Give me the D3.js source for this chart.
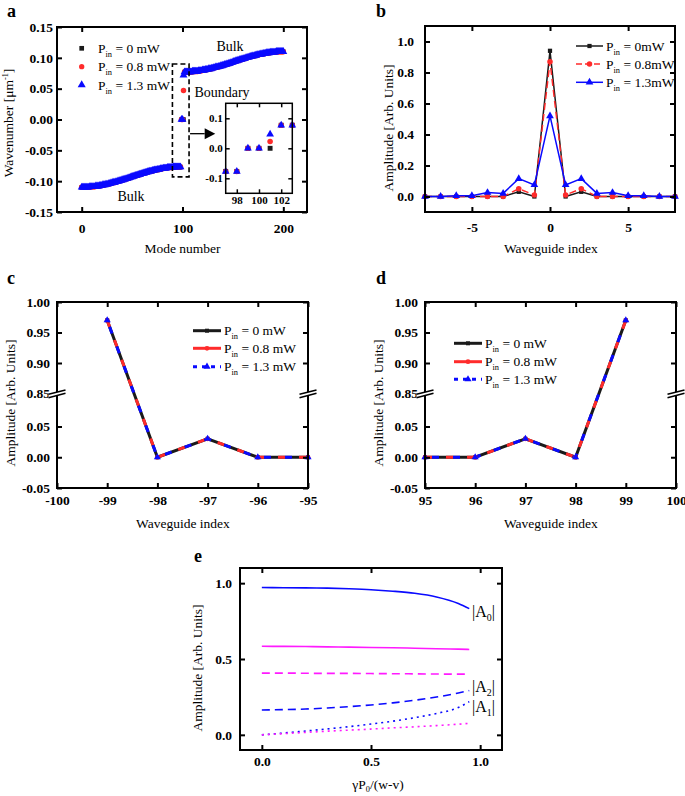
<!DOCTYPE html>
<html><head><meta charset="utf-8">
<script src="https://cdn.jsdelivr.net/npm/d3@7"></script>
<style>body{margin:0;background:#fff}</style>
</head><body><svg id="c" width="685" height="796"></svg>
<script>
// ---------------- DATA ----------------
const pinLabels = ["0 mW", "0.8 mW", "1.3 mW"];
const pinLabelsB = ["0mW", "0.8mW", "1.3mW"];
const panelLetters = ["a", "b", "c", "d", "e"];

// Panel a: bulk bands (modes 0..98 and 102..200)
const lowerModes = d3.range(0, 99);
const lowerBand = [
 -0.110,-0.110,-0.110,-0.110,-0.110,-0.110,-0.110,-0.110,
 -0.109,-0.109,-0.109,-0.109,-0.109,-0.109,
 -0.108,-0.108,-0.108,-0.108,
 -0.107,-0.107,-0.107,
 -0.106,-0.106,-0.106,
 -0.105,-0.105,-0.105,
 -0.104,-0.104,
 -0.103,-0.103,
 -0.102,-0.102,-0.102,
 -0.101,-0.101,
 -0.100,-0.100,
 -0.099,-0.099,
 -0.098,-0.098,
 -0.097,-0.097,
 -0.096,-0.096,
 -0.095,-0.095,
 -0.094,
 -0.093,-0.093,
 -0.092,-0.092,
 -0.091,-0.091,
 -0.090,-0.090,
 -0.089,-0.089,
 -0.088,-0.088,
 -0.087,-0.087,
 -0.086,-0.086,
 -0.085,-0.085,
 -0.084,-0.084,-0.084,
 -0.083,-0.083,
 -0.082,-0.082,-0.082,
 -0.081,-0.081,-0.081,
 -0.080,-0.080,-0.080,
 -0.079,-0.079,-0.079,-0.079,
 -0.078,-0.078,-0.078,-0.078,-0.078,-0.078,
 -0.077,-0.077,-0.077,-0.077,-0.077,-0.077,-0.077,-0.077
];
const upperModes = d3.range(102, 201);
const upperBand = [
 0.077,0.077,0.077,0.077,0.077,0.077,0.077,0.077,
 0.078,0.078,0.078,0.078,0.078,0.078,
 0.079,0.079,0.079,0.079,
 0.080,0.080,0.080,
 0.081,0.081,0.081,
 0.082,0.082,0.082,
 0.083,0.083,
 0.084,0.084,
 0.085,0.085,0.085,
 0.086,0.086,
 0.087,0.087,
 0.088,0.088,
 0.089,0.089,
 0.090,0.090,
 0.091,0.091,
 0.092,0.092,
 0.093,
 0.094,0.094,
 0.095,0.095,
 0.096,0.096,
 0.097,0.097,
 0.098,0.098,
 0.099,0.099,
 0.100,0.100,
 0.101,0.101,
 0.102,0.102,
 0.103,0.103,0.103,
 0.104,0.104,
 0.105,0.105,0.105,
 0.106,0.106,0.106,
 0.107,0.107,0.107,
 0.108,0.108,0.108,0.108,
 0.109,0.109,0.109,0.109,0.109,0.109,
 0.110,0.110,0.110,0.110,0.110,0.110,0.110,0.110
];
const boundaryModes = [99, 100, 101];
const boundaryBlack = [0, 0, 0];
const boundaryRed = [0, 0, 0.047];
const boundaryBlue = [0, 0, 0.072];
const insetModes = [97, 98, 99, 100, 101, 102, 103];
const insetBlack = [-0.077, -0.077, 0, 0, 0, 0.077, 0.077];
const insetRed = [-0.077, -0.077, 0, 0, 0.023, 0.077, 0.077];
const insetBlue = [-0.077, -0.077, 0, 0, 0.047, 0.077, 0.077];
const aXTicks = [0, 100, 200];
const aYTicks = [-0.15, -0.10, -0.05, 0, 0.05, 0.10, 0.15];
const insetXTicks = [98, 100, 102];
const insetYTicks = [-0.1, 0, 0.1];

// Panel b
const bIndex = [-8,-7,-6,-5,-4,-3,-2,-1,0,1,2,3,4,5,6,7,8];
const bBlack = [0,0,0,0,0,0,0.03,0,0.94,0,0.03,0,0,0,0,0,0];
const bRed   = [0,0,0,0,0,0,0.05,0.01,0.87,0.01,0.05,0,0,0,0,0,0];
const bBlue  = [0,0,0.005,0.005,0.025,0.02,0.115,0.075,0.52,0.075,0.115,0.02,0.025,0.005,0.005,0,0];
const bXTicks = [-5, 0, 5];
const bYTicks = [0, 0.2, 0.4, 0.6, 0.8, 1.0];

// Panel c
const cIndex = [-99, -98, -97, -96, -95];
const cBlack = [0.97, 0, 0.03, 0, 0];
const cRed   = [0.97, 0, 0.03, 0, 0];
const cBlue  = [0.97, 0, 0.03, 0, 0];
const cXTicks = [-100, -99, -98, -97, -96, -95];
// Panel d
const dIndex = [95, 96, 97, 98, 99];
const dBlack = [0, 0, 0.03, 0, 0.97];
const dRed   = [0, 0, 0.03, 0, 0.97];
const dBlue  = [0, 0, 0.03, 0, 0.97];
const dXTicks = [95, 96, 97, 98, 99, 100];
const cdYTicks = [-0.05, 0, 0.05, 0.85, 0.90, 0.95, 1.00];

// Panel e
const eX = [0, 0.1, 0.2, 0.3, 0.4, 0.5, 0.6, 0.7, 0.8, 0.9, 0.95];
const eA0Blue      = [0.971,0.970,0.969,0.967,0.963,0.957,0.947,0.933,0.909,0.866,0.832];
const eA0Magenta   = [0.584,0.583,0.582,0.580,0.578,0.576,0.574,0.571,0.568,0.565,0.563];
const eA2Magenta   = [0.407,0.407,0.406,0.405,0.405,0.404,0.403,0.402,0.401,0.400,0.400];
const eA2Blue      = [0.164,0.166,0.170,0.177,0.186,0.197,0.211,0.228,0.249,0.276,0.292];
const eA1Blue      = [0.000,0.012,0.025,0.039,0.054,0.071,0.090,0.113,0.141,0.180,0.219];
const eA1Magenta   = [0.000,0.008,0.016,0.024,0.031,0.038,0.046,0.053,0.061,0.070,0.076];
const eTicks = [0, 0.5, 1.0];
const eLabels = ["0", "2", "1"];

// ---------------- DRAWING ----------------
const SERIF = '"Liberation Serif","Times New Roman",serif';
const BLACK = "#1a1a1a", RED = "#ff2b2b", BLUE = "#0a0aff", MAG = "#ff1aff";
const svg = d3.select("#c");
svg.append("rect").attr("width", 685).attr("height", 796).attr("fill", "#fff");

const fmt2 = d => d3.format(".2f")(d).replace("\u2212", "-");
const fmt1 = d => d3.format(".1f")(d).replace("\u2212", "-");
const fmt0 = d => d3.format("d")(d).replace("\u2212", "-");

function axes(g, xs, ys, o) {
  const [xl, xr] = xs.range();
  const yb = d3.max(ys.range()), yt = d3.min(ys.range());
  const tk = o.tick || 5;
  const style = sel => {
    sel.select(".domain").remove();
    sel.selectAll(".tick line").attr("stroke", "#000").attr("stroke-width", o.tw || 2);
    sel.selectAll("text").attr("font-family", SERIF).attr("font-weight", "bold")
      .attr("font-size", o.fs || 13.5).attr("fill", "#000");
  };
  const none = () => "";
  g.append("g").attr("transform", `translate(0,${yb})`)
    .call(d3.axisBottom(xs).tickValues(o.xt).tickFormat(o.xf).tickSizeInner(-tk).tickSizeOuter(0).tickPadding(o.px)).call(style);
  g.append("g").attr("transform", `translate(0,${yt})`)
    .call(d3.axisTop(xs).tickValues(o.xt).tickFormat(none).tickSizeInner(-tk).tickSizeOuter(0)).call(style);
  g.append("g").attr("transform", `translate(${xl},0)`)
    .call(d3.axisLeft(ys).tickValues(o.yt).tickFormat(o.yf).tickSizeInner(-tk).tickSizeOuter(0).tickPadding(o.py)).call(style);
  g.append("g").attr("transform", `translate(${xr},0)`)
    .call(d3.axisRight(ys).tickValues(o.yt).tickFormat(none).tickSizeInner(-tk).tickSizeOuter(0)).call(style);
  g.append("rect").attr("x", xl).attr("y", yt).attr("width", xr - xl).attr("height", yb - yt)
    .attr("fill", "none").attr("stroke", "#000").attr("stroke-width", o.fw || 2);
}

function subText(g, x, y, parts, o = {}) {
  const t = g.append("text").attr("x", x).attr("y", y).attr("font-family", SERIF)
    .attr("font-size", o.fs || 13.5).attr("fill", "#000");
  if (o.anchor) t.attr("text-anchor", o.anchor);
  if (o.rotate) t.attr("transform", `rotate(-90,${x},${y})`);
  let shift = 0;
  parts.forEach(([s, k]) => {
    const target = k === "sub" ? (o.subDy || 4) : k === "sup" ? -(o.supDy || 5) : 0;
    const sp = t.append("tspan").attr("dy", target - shift).text(s);
    if (k !== "n") sp.attr("font-size", (o.fs || 13.5) * 0.62);
    shift = target;
  });
  return t;
}

function marker(g, type, x, y, color, size) {
  const sym = type === "sq" ? d3.symbolSquare : type === "ci" ? d3.symbolCircle : d3.symbolTriangle;
  g.append("path").attr("d", d3.symbol().type(sym).size(size)())
    .attr("transform", `translate(${x},${y})`).attr("fill", color);
}

function letter(t, x, y) {
  svg.append("text").attr("x", x).attr("y", y).attr("font-family", SERIF).attr("font-weight", "bold")
    .attr("font-size", 18).attr("fill", "#000").text(t);
}

// ===== Panel a =====
{
  const g = svg.append("g");
  const xs = d3.scaleLinear().domain([-24.5, 223.5]).range([57, 307]);
  const ys = d3.scaleLinear().domain([-0.15, 0.15]).range([212, 27]);
  const series = [
    {type: "sq", color: BLACK, size: 20, bnd: boundaryBlack, ins: insetBlack},
    {type: "ci", color: RED, size: 24, bnd: boundaryRed, ins: insetRed},
    {type: "tr", color: BLUE, size: 27, bnd: boundaryBlue, ins: insetBlue}
  ];
  series.forEach(s => {
    lowerModes.forEach((m, i) => marker(g, s.type, xs(m), ys(lowerBand[i]), s.color, s.size));
    upperModes.forEach((m, i) => marker(g, s.type, xs(m), ys(upperBand[i]), s.color, s.size));
    boundaryModes.forEach((m, i) => marker(g, s.type, xs(m), ys(s.bnd[i]), s.color, s.size));
  });
  axes(g, xs, ys, {xt: aXTicks, yt: aYTicks, xf: fmt0, yf: fmt2, px: 11, py: 4});
  // dashed box
  g.append("rect").attr("x", xs(90)).attr("y", ys(0.09)).attr("width", xs(106.5) - xs(90))
    .attr("height", ys(-0.093) - ys(0.09)).attr("fill", "none").attr("stroke", "#000")
    .attr("stroke-width", 1.6).attr("stroke-dasharray", "5,3");
  // arrow
  const ay = ys(-0.023);
  g.append("line").attr("x1", xs(107.5)).attr("x2", xs(122)).attr("y1", ay).attr("y2", ay)
    .attr("stroke", "#000").attr("stroke-width", 1.3);
  g.append("path").attr("d", `M${xs(122)},${ay - 5.5}L${xs(132.5)},${ay}L${xs(122)},${ay + 5.5}Z`).attr("fill", "#000");
  // labels
  g.append("text").attr("x", 230).attr("y", 51).attr("text-anchor", "middle").attr("font-family", SERIF).attr("font-size", 14).text("Bulk");
  g.append("text").attr("x", 131).attr("y", 201).attr("text-anchor", "middle").attr("font-family", SERIF).attr("font-size", 14).text("Bulk");
  g.append("text").attr("x", 222).attr("y", 97).attr("text-anchor", "middle").attr("font-family", SERIF).attr("font-size", 14).text("Boundary");
  // legend
  const ly = [48.3, 66.7, 85];
  series.forEach((s, i) => {
    marker(g, s.type, 81.7, ly[i], s.color, s.type === "tr" ? 28 : 22);
    subText(g, 98, ly[i] + 4.5, [["P", "n"], ["in", "sub"], [" = " + pinLabels[i], "n"]]);
  });
  // inset
  const ix = d3.scaleLinear().domain([97, 103]).range([225.7, 292.3]);
  const iy = d3.scaleLinear().domain([-0.15, 0.15]).range([193.3, 103.3]);
  g.append("rect").attr("x", 225.7).attr("y", 103.3).attr("width", 66.6).attr("height", 90).attr("fill", "#fff");
  series.forEach(s => {
    insetModes.forEach((m, i) => marker(g, s.type, ix(m), iy(s.ins[i]), s.color, s.type === "tr" ? 26 : 24));
  });
  axes(g, ix, iy, {xt: insetXTicks, yt: insetYTicks, xf: fmt0, yf: fmt1, px: 3, py: 3, tick: 4, tw: 1.5, fw: 1.5, fs: 11});
  // axis titles
  subText(g, 182.5, 252.5, [["Mode number", "n"]], {anchor: "middle"});
  subText(g, 13, 123, [["Wavenumber [\u03bcm", "n"], ["-1", "sup"], ["]", "n"]], {anchor: "middle", rotate: true});
}

// ===== Panel b =====
{
  const g = svg.append("g");
  const xs = d3.scaleLinear().domain([-8, 8]).range([425, 675]);
  const ys = d3.scaleLinear().domain([-0.1, 1.1]).range([212, 26]);
  const line = d3.line().x((d, i) => xs(bIndex[i])).y(d => ys(d));
  const series = [
    {vals: bBlack, color: BLACK, dash: null, type: "sq", size: 18},
    {vals: bRed, color: RED, dash: "7,4", type: "ci", size: 24},
    {vals: bBlue, color: BLUE, dash: null, type: "tr", size: 26}
  ];
  series.forEach(s => {
    g.append("path").attr("d", line(s.vals)).attr("fill", "none").attr("stroke", s.color)
      .attr("stroke-width", 1.5).attr("stroke-dasharray", s.dash);
    s.vals.forEach((v, i) => marker(g, s.type, xs(bIndex[i]), ys(v), s.color, s.size));
  });
  axes(g, xs, ys, {xt: bXTicks, yt: bYTicks, xf: fmt0, yf: fmt1, px: 10, py: 11});
  const ly = [46, 64, 82.3];
  series.forEach((s, i) => {
    g.append("line").attr("x1", 576).attr("x2", 603).attr("y1", ly[i]).attr("y2", ly[i])
      .attr("stroke", s.color).attr("stroke-width", 1.5).attr("stroke-dasharray", s.dash ? "6,3" : null);
    marker(g, s.type, 589.5, ly[i], s.color, s.size);
    subText(g, 606, ly[i] + 4.5, [["P", "n"], ["in", "sub"], [" = " + pinLabelsB[i], "n"]]);
  });
  subText(g, 550.8, 252.5, [["Waveguide index", "n"]], {anchor: "middle"});
  subText(g, 393, 128, [["Amplitude [Arb. Units]", "n"]], {anchor: "middle", rotate: true});
}

// ===== Panels c & d =====
function breakMark(g, x, y) {
  g.append("path").attr("d", `M${x - 8.5},${y + 0.8}L${x + 8.5},${y - 3.6}L${x + 8.5},${y - 0.2}L${x - 8.5},${y + 4.2}Z`).attr("fill", "#fff");
  g.append("line").attr("x1", x - 8.5).attr("y1", y + 0.8).attr("x2", x + 8.5).attr("y2", y - 3.6).attr("stroke", "#000").attr("stroke-width", 1.6);
  g.append("line").attr("x1", x - 8.5).attr("y1", y + 4.2).attr("x2", x + 8.5).attr("y2", y - 0.2).attr("stroke", "#000").attr("stroke-width", 1.6);
}
function panelCD(xIdx, vb, vr, vbl, xDomain, xTicks, xl, xr, legX, legY, titleX, yTitleX) {
  const g = svg.append("g");
  const xs = d3.scaleLinear().domain(xDomain).range([xl, xr]);
  const ys = d3.scaleLinear().domain([-0.05, 0.05, 0.85, 1.0]).range([488, 426.5, 393.5, 302]);
  const line = d3.line().x((d, i) => xs(xIdx[i])).y(d => ys(d));
  const series = [
    {vals: vb, color: BLACK, dash: null, off: 0, type: "sq", size: 16},
    {vals: vr, color: RED, dash: "7,14", off: 0, type: "ci", size: 18},
    {vals: vbl, color: BLUE, dash: "7,14", off: -7, type: "tr", size: 22}
  ];
  series.forEach(s => {
    g.append("path").attr("d", line(s.vals)).attr("fill", "none").attr("stroke", s.color)
      .attr("stroke-width", 3).attr("stroke-dasharray", s.dash).attr("stroke-dashoffset", s.off);
  });
  series.forEach(s => s.vals.forEach((v, i) => marker(g, s.type, xs(xIdx[i]), ys(v), s.color, s.size)));
  axes(g, xs, ys, {xt: xTicks, yt: cdYTicks, xf: fmt0, yf: fmt2, px: 7, py: 7});
  breakMark(g, xl, 393.5);
  breakMark(g, xr, 393.5);
  const legDash = [null, null, "4,5"];
  series.forEach((s, i) => {
    g.append("line").attr("x1", legX).attr("x2", legX + 28).attr("y1", legY[i]).attr("y2", legY[i])
      .attr("stroke", s.color).attr("stroke-width", 3).attr("stroke-dasharray", legDash[i]);
    marker(g, s.type, legX + 14, legY[i], s.color, s.size);
    subText(g, legX + 31, legY[i] + 4.5, [["P", "n"], ["in", "sub"], [" = " + pinLabels[i], "n"]]);
  });
  subText(g, titleX, 527.5, [["Waveguide index", "n"]], {anchor: "middle"});
  subText(g, yTitleX, 403, [["Amplitude [Arb. Units]", "n"]], {anchor: "middle", rotate: true});
}
panelCD(cIndex, cBlack, cRed, cBlue, [-100, -95], cXTicks, 57, 308, 193, [330.7, 348.3, 366.7], 183, 15);
panelCD(dIndex, dBlack, dRed, dBlue, [95, 100], dXTicks, 425, 676, 454, [343.3, 361.7, 379.3], 550.8, 383);

// ===== Panel e =====
{
  const g = svg.append("g");
  const xs = d3.scaleLinear().domain([-0.1, 1.1]).range([240, 502]);
  const ys = d3.scaleLinear().domain([-0.1, 1.1]).range([750, 568]);
  const line = d3.line().curve(d3.curveMonotoneX).x((d, i) => xs(eX[i])).y(d => ys(d));
  const curves = [
    {vals: eA0Blue, color: BLUE, dash: null},
    {vals: eA0Magenta, color: MAG, dash: null},
    {vals: eA2Magenta, color: MAG, dash: "8,5"},
    {vals: eA2Blue, color: BLUE, dash: "8,5"},
    {vals: eA1Blue, color: BLUE, dash: "2,4"},
    {vals: eA1Magenta, color: MAG, dash: "2,4"}
  ];
  curves.forEach(c => g.append("path").attr("d", line(c.vals)).attr("fill", "none")
    .attr("stroke", c.color).attr("stroke-width", 1.6).attr("stroke-dasharray", c.dash));
  axes(g, xs, ys, {xt: eTicks, yt: eTicks, xf: fmt1, yf: fmt1, px: 6, py: 8});
  const ey = [617, 691.5, 712];
  eLabels.forEach((l, i) => subText(g, 472, ey[i], [["|A", "n"], [l, "sub"], ["|", "n"]], {fs: 16, subDy: 4}));
  subText(g, 378, 789, [["\u03b3P", "n"], ["0", "sub"], ["/(w-v)", "n"]], {anchor: "middle", subDy: 3});
  subText(g, 202, 668, [["Amplitude [Arb. Units]", "n"]], {anchor: "middle", rotate: true});
}

// panel letters
letter(panelLetters[0], 7, 17);
letter(panelLetters[1], 376, 17);
letter(panelLetters[2], 7, 284);
letter(panelLetters[3], 376, 284);
letter(panelLetters[4], 194, 562);
</script>
</body></html>
